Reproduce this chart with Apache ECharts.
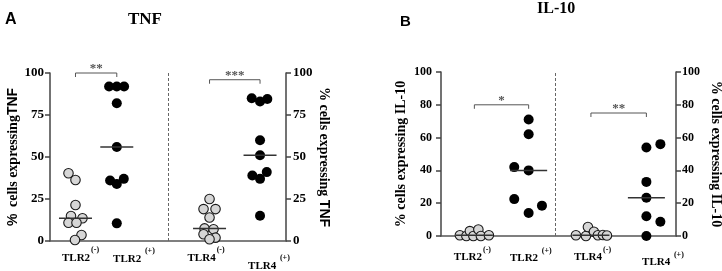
<!DOCTYPE html>
<html>
<head>
<meta charset="utf-8">
<script src="https://cdn.jsdelivr.net/npm/echarts@6/dist/echarts.min.js"></script>
<style>
html,body{margin:0;padding:0;background:#fff}
#chart{width:722px;height:271px}
</style>
</head>
<body>
<div id="chart"></div>
<script>
/******************** data (% cells) ********************/
var groupNames = ['TLR2', 'TLR2 ', 'TLR4', 'TLR4 '];
var groupSigns = ['(-)', '(+)', '(-)', '(+)'];

// TNF
var tnfTLR2neg = [40.3, 36.3, 21.4, 14.9, 13.5, 10.9, 10.9, 3.6, 0.6];
var tnfTLR2pos = [92, 92, 92, 82, 56, 36, 34, 37, 10.5];
var tnfTLR4neg = [25, 19, 19, 14, 7.5, 7, 4, 2, 1];
var tnfTLR4pos = [85, 83, 84.5, 60, 51, 39, 41, 37, 15];
var tnfTicks = [0, 25, 50, 75, 100];
var tnfSigText = ['**', '***'];
var tnfSigY = [100, 96];

// IL-10
var il10TLR2neg = [0.5, 0, 3, 0, 4, 0, 0.5];
var il10TLR2pos = [71, 62, 42, 40, 22.5, 18.5, 14];
var il10TLR4neg = [0.5, 0, 5.5, 2.6, 0.5, 0.6, 0.3];
var il10TLR4pos = [54, 56, 33, 23.3, 12, 8.7, 0];
var il10Ticks = [0, 20, 40, 60, 80, 100];
var il10SigText = ['*', '**'];
var il10SigY = [80, 75];

/******************** layout ********************/
var serif = 'Liberation Serif';
var sans = 'Liberation Sans';

// horizontal spread of the dots (px), per group
var tnfJitter = [
    [-7, 0, 0, -4.5, 7, -7, 1, 6, -0.5],
    [-7.7, 0, 7.3, 0, 0, -6.7, 0, 7, 0],
    [0, -6, 6, 0, -5, 4, -6, 6, 0],
    [-8.3, 0, 7.3, 0, 0, -7.7, 6.7, 0, 0]
];
var il10Jitter = [
    [-14.5, -8, -4.5, -1, 4, 6.5, 14.5],
    [0, 0, -14.4, 0, -14.4, 13.3, 0],
    [-15, -5, -3, 3, 7, 12, 16],
    [0, 14, 0, 0, 0, 14, 0]
];

var panels = [{
    grid: {left: 50, right: 436, top: 73, bottom: 30},
    groups: [tnfTLR2neg, tnfTLR2pos, tnfTLR4neg, tnfTLR4pos],
    jitter: tnfJitter,
    pos: [1.08, 2.83, 6.76, 8.9],
    sep: 5.0,
    ticks: tnfTicks,
    tickFont: 13,
    leftName: '{s|%}  {r|cells expressing}{s|TNF}',
    rightName: '{r|% cells expressing }{s|TNF}',
    nameGap: [25, 25],
    labelMargin: [6, 7],
    sigText: tnfSigText, sigY: tnfSigY, sigPairs: [[0, 1], [2, 3]],
    labelDx: [-13.5, -3.7, -22, -12],
    labelDy: [17, 18, 17, 25],
    medianHalf: 16.5
}, {
    grid: {left: 441, right: 46, top: 72, bottom: 35},
    groups: [il10TLR2neg, il10TLR2pos, il10TLR4neg, il10TLR4pos],
    jitter: il10Jitter,
    pos: [1.42, 3.73, 6.38, 8.74],
    sep: 4.86,
    ticks: il10Ticks,
    tickFont: 12,
    leftName: '{r|% cells expressing IL-10}',
    rightName: '{r|% cells expressing IL-10}',
    nameGap: [33, 33],
    labelMargin: [9, 6],
    sigText: il10SigText, sigY: il10SigY, sigPairs: [[0, 1], [2, 3]],
    labelDx: [-20.5, -18.7, -17, -4.3],
    labelDy: [21.5, 22.5, 21.5, 26.5],
    medianHalf: 18.5
}];

function median(arr) {
    var s = arr.slice().sort(function (a, b) { return a - b; });
    var n = s.length;
    return n % 2 ? s[(n - 1) / 2] : (s[n / 2 - 1] + s[n / 2]) / 2;
}

var measureCtx = document.createElement('canvas').getContext('2d');
function textWidth(txt, font) {
    measureCtx.font = font;
    return measureCtx.measureText(txt).width;
}

var nameRich = {
    s: {fontFamily: sans, fontWeight: 'bold', fontSize: 14, color: '#000'},
    r: {fontFamily: serif, fontWeight: 'bold', fontSize: 14, color: '#000'}
};

var grids = [], xAxes = [], yAxes = [], series = [];

panels.forEach(function (p, gi) {
    grids.push(Object.assign({outerBoundsMode: 'none'}, p.grid));
    xAxes.push({
        type: 'value', gridIndex: gi, min: 0, max: 10,
        axisLine: {show: true, onZero: false, lineStyle: {color: '#555', width: 1.5}},
        axisTick: {show: false}, axisLabel: {show: false}, splitLine: {show: false}
    });
    var step = p.ticks[1] - p.ticks[0];
    ['left', 'right'].forEach(function (side, k) {
        yAxes.push({
            type: 'value', gridIndex: gi, position: side,
            min: p.ticks[0], max: p.ticks[p.ticks.length - 1], interval: step,
            axisLine: {show: true, onZero: false, lineStyle: {color: '#444', width: 1.5}},
            axisTick: {show: true, length: 5, inside: false, lineStyle: {color: '#444', width: 1.5}},
            axisLabel: {fontFamily: serif, fontWeight: 'bold', fontSize: p.tickFont, color: '#000', margin: p.labelMargin[k]},
            splitLine: {show: false},
            name: k === 0 ? p.leftName : p.rightName,
            nameLocation: 'middle',
            nameRotate: k === 0 ? 90 : -90,
            nameGap: p.nameGap[k],
            nameTextStyle: {rich: nameRich}
        });
    });

    // dots
    p.groups.forEach(function (vals, g) {
        var gray = (g % 2 === 0);
        series.push({
            type: 'scatter', xAxisIndex: gi, yAxisIndex: gi * 2,
            symbol: 'circle', symbolSize: gray ? 9.5 : 10, z: 3, silent: true, clip: false,
            itemStyle: gray ? {color: '#d6d6d6', borderColor: '#1a1a1a', borderWidth: 1.1, opacity: 1}
                            : {color: '#000', borderWidth: 0, opacity: 1},
            data: vals.map(function (v, i) {
                return {value: [p.pos[g], v], symbolOffset: [p.jitter[g][i], 0]};
            }),
            markLine: g === 0 ? {
                silent: true, symbol: ['none', 'none'], label: {show: false},
                lineStyle: {type: [3, 2], color: '#666', width: 1},
                data: [{xAxis: p.sep}]
            } : undefined
        });
    });

    // median bars
    series.push({
        type: 'custom', xAxisIndex: gi, yAxisIndex: gi * 2, z: 4, silent: true,
        data: p.groups.map(function (vals, g) { return [p.pos[g], median(vals)]; }),
        renderItem: function (params, api) {
            var c = api.coord([api.value(0), api.value(1)]);
            return {type: 'line', shape: {x1: c[0] - p.medianHalf, y1: c[1], x2: c[0] + p.medianHalf, y2: c[1]},
                    style: {stroke: '#333', lineWidth: 1.5}};
        }
    });

    // significance brackets
    series.push({
        type: 'custom', xAxisIndex: gi, yAxisIndex: gi * 2, z: 4, silent: true, clip: false,
        encode: {x: [0, 1], y: 2},
        data: p.sigPairs.map(function (pr, k) { return [p.pos[pr[0]], p.pos[pr[1]], p.sigY[k], k]; }),
        renderItem: function (params, api) {
            var a = api.coord([api.value(0), api.value(2)]);
            var b = api.coord([api.value(1), api.value(2)]);
            return {type: 'group', children: [{
                type: 'polyline',
                shape: {points: [[a[0], a[1] + 4], [a[0], a[1]], [b[0], a[1]], [b[0], a[1] + 4]]},
                style: {stroke: '#555', lineWidth: 1, fill: null}
            }, {
                type: 'text', x: (a[0] + b[0]) / 2, y: a[1] + 2,
                style: {text: p.sigText[api.value(3)], fill: '#555', font: 'bold 13px ' + serif,
                        align: 'center', verticalAlign: 'bottom'}
            }]};
        }
    });

    // group labels with superscripts
    series.push({
        type: 'custom', xAxisIndex: gi, yAxisIndex: gi * 2, z: 4, silent: true, clip: false,
        data: p.pos.map(function (x, g) { return [x, 0, g]; }),
        renderItem: function (params, api) {
            var g = api.value(2);
            var c = api.coord([api.value(0), 0]);
            var x = c[0] + p.labelDx[g], y = c[1] + p.labelDy[g];
            var baseFont = 'bold 11px ' + serif;
            var w = textWidth(groupNames[g], baseFont);
            return {type: 'group', children: [{
                type: 'text', x: x, y: y,
                style: {text: groupNames[g], font: baseFont, fill: '#000', align: 'left', verticalAlign: 'middle'}
            }, {
                type: 'text', x: x + w + 1, y: y - 8,
                style: {text: groupSigns[g], font: 'bold 8px ' + serif, fill: '#000', align: 'left', verticalAlign: 'middle'}
            }]};
        }
    });
});

var chart = echarts.init(document.getElementById('chart'), null, {renderer: 'canvas'});
chart.setOption({
    backgroundColor: '#fff',
    animation: false,
    title: [
        {text: 'A', left: 5, top: 12, padding: 0, textStyle: {fontFamily: sans, fontWeight: 'bold', fontSize: 16, color: '#000'}},
        {text: 'TNF', left: 128, top: 11, padding: 0, textStyle: {fontFamily: serif, fontWeight: 'bold', fontSize: 17, color: '#000'}},
        {text: 'B', left: 400, top: 14, padding: 0, textStyle: {fontFamily: sans, fontWeight: 'bold', fontSize: 15, color: '#000'}},
        {text: 'IL-10', left: 537, top: 1, padding: 0, textStyle: {fontFamily: serif, fontWeight: 'bold', fontSize: 16, color: '#000'}}
    ],
    grid: grids,
    xAxis: xAxes,
    yAxis: yAxes,
    series: series
});
</script>
</body>
</html>
